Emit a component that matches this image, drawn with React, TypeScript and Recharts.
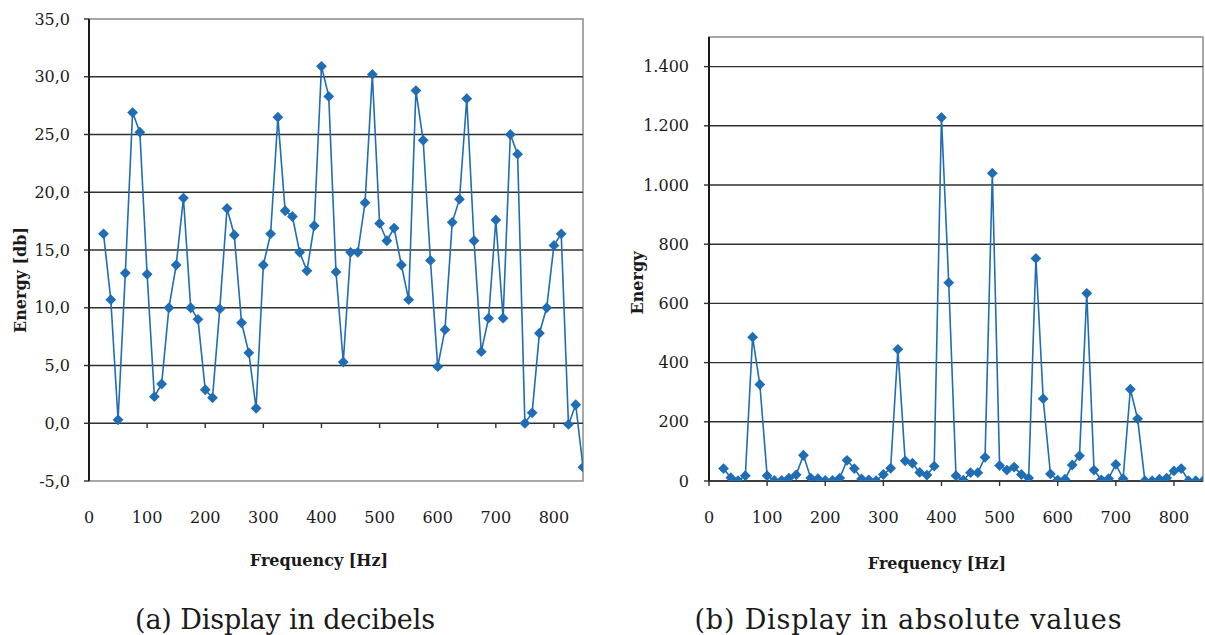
import React from 'react';
import { LineChart, Line, XAxis, YAxis, ReferenceLine, ReferenceArea } from 'recharts';

// Frequency bins [Hz]
const frequencies = [
  25, 37.5, 50, 62.5, 75, 87.5, 100, 112.5, 125, 137.5,
  150, 162.5, 175, 187.5, 200, 212.5, 225, 237.5, 250, 262.5,
  275, 287.5, 300, 312.5, 325, 337.5, 350, 362.5, 375, 387.5,
  400, 412.5, 425, 437.5, 450, 462.5, 475, 487.5, 500, 512.5,
  525, 537.5, 550, 562.5, 575, 587.5, 600, 612.5, 625, 637.5,
  650, 662.5, 675, 687.5, 700, 712.5, 725, 737.5, 750, 762.5,
  775, 787.5, 800, 812.5, 825, 837.5, 850,
];

// (a) Energy in decibels
const energyDb = [
  16.4, 10.7, 0.3, 13.0, 26.9, 25.2, 12.9, 2.3, 3.4, 10.0,
  13.7, 19.5, 10.0, 9.0, 2.9, 2.2, 9.9, 18.6, 16.3, 8.7,
  6.1, 1.3, 13.7, 16.4, 26.5, 18.4, 17.9, 14.8, 13.2, 17.1,
  30.9, 28.3, 13.1, 5.3, 14.8, 14.8, 19.1, 30.2, 17.3, 15.8,
  16.9, 13.7, 10.7, 28.8, 24.5, 14.1, 4.9, 8.1, 17.4, 19.4,
  28.1, 15.8, 6.2, 9.1, 17.6, 9.1, 25.0, 23.3, 0.0, 0.9,
  7.8, 10.0, 15.4, 16.4, -0.1, 1.6, -3.8,
];

// (b) Energy in absolute values
const energyAbs = [
  42, 11, 1, 18, 486, 326, 18, 2, 2, 10,
  21, 87, 10, 8, 2, 2, 10, 70, 42, 7,
  4, 1, 22, 43, 445, 68, 60, 29, 20, 50,
  1228, 670, 18, 3, 28, 28, 80, 1040, 52, 37,
  47, 22, 10, 752, 278, 24, 3, 6, 54, 85,
  634, 37, 4, 8, 56, 8, 310, 210, 1, 1,
  6, 10, 34, 42, 1, 1, 0,
];

const xTicks = [0, 100, 200, 300, 400, 500, 600, 700, 800];
const dbTicks = [-5, 0, 5, 10, 15, 20, 25, 30, 35];
const absTicks = [0, 200, 400, 600, 800, 1000, 1200, 1400];

const dbData = frequencies.map((f, i) => ({ f, v: energyDb[i] }));
const absData = frequencies.map((f, i) => ({ f, v: energyAbs[i] }));

const COLOR = '#1f6db4';
const FONT = '"DejaVu Serif", serif';
const GRID = '#303030';
const BORDER = '#8c8c8c';

const Diamond = (props: any) => {
  const { cx, cy, index } = props;
  if (cx == null || cy == null) return <g key={`n-${index}`} />;
  const r = 5.4;
  return (
    <polygon
      key={`d-${index}`}
      points={`${cx},${cy - r} ${cx + r},${cy} ${cx},${cy + r} ${cx - r},${cy}`}
      fill={COLOR}
    />
  );
};

const fmtDb = (v: number) => v.toFixed(1).replace('.', ',');
const fmtAbs = (v: number) =>
  v >= 1000 ? `${Math.floor(v / 1000)}.${String(v % 1000).padStart(3, '0')}` : String(v);

const tickStyle = { fill: '#1a1a1a', fontSize: 16, fontFamily: FONT };

export default function App() {
  return (
    <div style={{ position: 'absolute', left: 0, top: 0, width: 1205, height: 635, background: '#fff', overflow: 'hidden' }}>
      <svg width={1205} height={635} style={{ position: 'absolute', left: 0, top: 0 }}>
        <text
          x={20}
          y={280}
          transform="rotate(-90 20 280)"
          textAnchor="middle"
          dominantBaseline="central"
          fontFamily={FONT}
          fontWeight="bold"
          fontSize={16}
          fill="#1a1a1a"
        >
          Energy [db]
        </text>
        <text
          x={637}
          y={283}
          transform="rotate(-90 637 283)"
          textAnchor="middle"
          dominantBaseline="central"
          fontFamily={FONT}
          fontWeight="bold"
          fontSize={16}
          fill="#1a1a1a"
        >
          Energy
        </text>
        <text x={319} y={566} textAnchor="middle" fontFamily={FONT} fontWeight="bold" fontSize={16} fill="#1a1a1a">
          Frequency [Hz]
        </text>
        <text x={937} y={569} textAnchor="middle" fontFamily={FONT} fontWeight="bold" fontSize={16} fill="#1a1a1a">
          Frequency [Hz]
        </text>
        <text x={285} y={629} textAnchor="middle" fontFamily={FONT} fontSize={27} fill="#1a1a1a" textLength={300} lengthAdjust="spacing">
          (a) Display in decibels
        </text>
        <text x={908} y={629} textAnchor="middle" fontFamily={FONT} fontSize={27} fill="#1a1a1a" textLength={427} lengthAdjust="spacing">
          (b) Display in absolute values
        </text>
      </svg>

      <div style={{ position: 'absolute', left: 0, top: 0 }}>
        <LineChart width={600} height={635} data={dbData} margin={{ top: 19, right: 17, bottom: 94, left: 0 }}>
          <ReferenceArea x1={0} x2={850} y1={-5} y2={35} fill="none" stroke={BORDER} strokeWidth={1.5} ifOverflow="visible" />
          {dbTicks
            .filter((t) => t !== -5 && t !== 35)
            .map((t) => (
              <ReferenceLine key={`g${t}`} y={t} stroke={GRID} strokeWidth={1.4} />
            ))}
          {xTicks
            .filter((t) => t > 0)
            .map((t) => (
              <ReferenceLine
                key={`x${t}`}
                segment={[{ x: t, y: 0 }, { x: t, y: -0.42 }]}
                stroke={GRID}
                strokeWidth={1.4}
              />
            ))}
          <XAxis
            dataKey="f"
            type="number"
            domain={[0, 850]}
            ticks={xTicks}
            interval={0}
            axisLine={false}
            tickLine={false}
            tickSize={5}
            tickMargin={26}
            height={60}
            tick={tickStyle}
            allowDataOverflow
          />
          <YAxis
            type="number"
            domain={[-5, 35]}
            ticks={dbTicks}
            interval={0}
            width={89}
            tickSize={5}
            tickMargin={14}
            axisLine={{ stroke: '#1a1a1a', strokeWidth: 2 }}
            tickLine={{ stroke: GRID, strokeWidth: 1.4 }}
            tickFormatter={fmtDb}
            tick={tickStyle}
            allowDataOverflow
          />
          <Line dataKey="v" type="linear" stroke={COLOR} strokeWidth={1.6} dot={Diamond} activeDot={false} isAnimationActive={false} />
        </LineChart>
      </div>

      <div style={{ position: 'absolute', left: 600, top: 0 }}>
        <LineChart width={605} height={635} data={absData} margin={{ top: 37, right: 2, bottom: 94, left: 0 }}>
          <ReferenceArea x1={0} x2={850} y1={0} y2={1500} fill="none" stroke={BORDER} strokeWidth={1.5} ifOverflow="visible" />
          {absTicks
            .filter((t) => t !== 0)
            .map((t) => (
              <ReferenceLine key={`g${t}`} y={t} stroke={GRID} strokeWidth={1.4} />
            ))}
          <XAxis
            dataKey="f"
            type="number"
            domain={[0, 850]}
            ticks={xTicks}
            interval={0}
            axisLine={{ stroke: '#1a1a1a', strokeWidth: 1.6 }}
            tickLine={{ stroke: GRID, strokeWidth: 1.4 }}
            tickSize={5}
            tickMargin={26}
            height={60}
            tick={tickStyle}
            allowDataOverflow
          />
          <YAxis
            type="number"
            domain={[0, 1500]}
            ticks={absTicks}
            interval={0}
            width={109}
            tickSize={5}
            tickMargin={15}
            axisLine={{ stroke: '#1a1a1a', strokeWidth: 2 }}
            tickLine={{ stroke: GRID, strokeWidth: 1.4 }}
            tickFormatter={fmtAbs}
            tick={tickStyle}
            allowDataOverflow
          />
          <Line dataKey="v" type="linear" stroke={COLOR} strokeWidth={1.6} dot={Diamond} activeDot={false} isAnimationActive={false} />
        </LineChart>
      </div>
    </div>
  );
}
